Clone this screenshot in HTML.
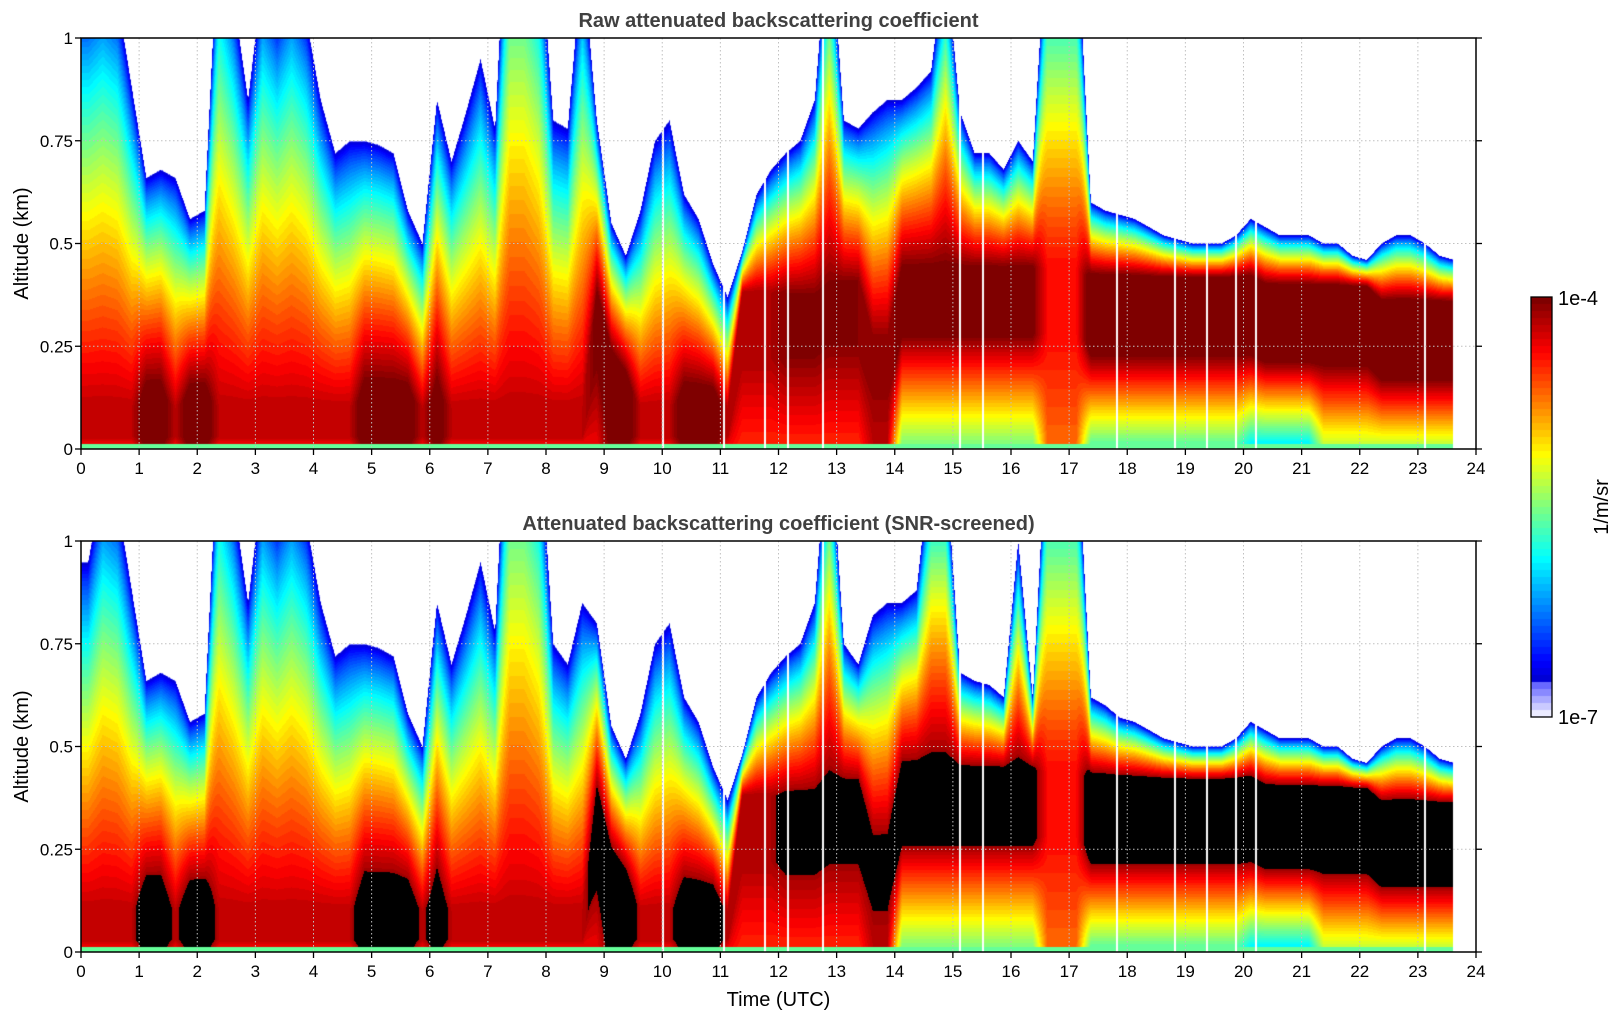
<!DOCTYPE html>
<html><head><meta charset="utf-8"><style>
html,body{margin:0;padding:0;background:#fff;width:1621px;height:1020px;overflow:hidden;position:relative}
canvas{position:absolute}
svg{position:absolute;left:0;top:0}
text{font-family:"Liberation Sans","DejaVu Sans",sans-serif}
</style></head><body>
<canvas id="c1" width="1395" height="411" style="left:81px;top:38px"></canvas>
<canvas id="c2" width="1395" height="411" style="left:81px;top:541px"></canvas>
<canvas id="cb" width="21" height="420" style="left:1531px;top:297px"></canvas>
<svg id="ov" width="1621" height="1020"></svg>
<script>
// ---- data: per 0.25 h column, hours 0 .. 23.5 ----
const colHours = Array.from({length:95},(_, i)=>i*0.25);
const dataEnd = 23.6;
const topRaw = [1.1,1.15,1.1,0.88,0.66,0.68,0.66,0.56,0.58,1.3,1.1,0.85,1.15,1.05,1.15,1.05,0.85,0.72,0.75,0.75,0.74,0.72,0.58,0.5,0.85,0.7,0.82,0.95,0.78,1.5,1.5,1.3,0.8,0.78,1.2,0.8,0.55,0.47,0.58,0.75,0.8,0.62,0.56,0.45,0.37,0.48,0.62,0.68,0.72,0.75,0.85,1.3,0.8,0.78,0.82,0.85,0.85,0.88,0.92,1.2,0.82,0.72,0.72,0.68,0.75,0.7,1.3,1.3,1.3,0.6,0.58,0.57,0.56,0.54,0.52,0.51,0.5,0.5,0.5,0.52,0.56,0.54,0.52,0.52,0.52,0.5,0.5,0.47,0.46,0.5,0.52,0.52,0.5,0.47,0.46];
const topScreened = [0.95,1.15,1.1,0.88,0.66,0.68,0.66,0.56,0.58,1.3,1.1,0.85,1.15,1.05,1.15,1.05,0.85,0.72,0.75,0.75,0.74,0.72,0.58,0.5,0.85,0.7,0.82,0.95,0.78,1.5,1.5,1.3,0.75,0.7,0.85,0.8,0.55,0.47,0.58,0.75,0.8,0.62,0.56,0.45,0.37,0.48,0.62,0.68,0.72,0.75,0.85,1.3,0.75,0.7,0.82,0.85,0.85,0.88,1.2,1.2,0.68,0.66,0.65,0.62,1.0,0.62,1.3,1.3,1.3,0.62,0.6,0.57,0.56,0.54,0.52,0.51,0.5,0.5,0.5,0.52,0.56,0.54,0.52,0.52,0.52,0.5,0.5,0.47,0.46,0.5,0.52,0.52,0.5,0.47,0.46];
const peakAlt = [0.06,0.06,0.06,0.06,0.06,0.06,0.06,0.06,0.06,0.06,0.06,0.06,0.06,0.06,0.06,0.06,0.06,0.06,0.06,0.06,0.06,0.06,0.06,0.06,0.06,0.06,0.06,0.06,0.06,0.06,0.06,0.06,0.06,0.06,0.06,0.3,0.15,0.1,0.06,0.06,0.06,0.06,0.06,0.06,0.06,0.3,0.3,0.3,0.3,0.3,0.3,0.33,0.33,0.33,0.2,0.2,0.36,0.36,0.36,0.36,0.36,0.36,0.36,0.36,0.36,0.36,0.36,0.36,0.36,0.33,0.33,0.33,0.33,0.33,0.33,0.33,0.33,0.33,0.33,0.33,0.33,0.31,0.31,0.31,0.31,0.31,0.31,0.31,0.31,0.27,0.27,0.27,0.27,0.27,0.27];
const layerThick = [0.04,0.04,0.04,0.04,0.07,0.07,0.04,0.07,0.07,0.04,0.04,0.04,0.04,0.04,0.04,0.04,0.04,0.04,0.04,0.07,0.07,0.07,0.07,0.04,0.07,0.04,0.04,0.04,0.04,0.04,0.04,0.04,0.04,0.04,0.04,0.08,0.07,0.07,0.04,0.04,0.04,0.07,0.07,0.07,0.04,0.08,0.08,0.08,0.08,0.08,0.08,0.08,0.08,0.08,0.08,0.08,0.08,0.08,0.08,0.08,0.08,0.08,0.08,0.08,0.08,0.08,0.08,0.08,0.08,0.08,0.08,0.08,0.08,0.08,0.08,0.08,0.08,0.08,0.08,0.08,0.08,0.08,0.08,0.08,0.08,0.08,0.08,0.08,0.08,0.08,0.08,0.08,0.08,0.08,0.08];
const peakVal = [-4.2,-4.2,-4.2,-4.2,-3.9,-3.9,-4.2,-3.9,-3.9,-4.2,-4.2,-4.2,-4.2,-4.2,-4.2,-4.2,-4.2,-4.2,-4.2,-3.9,-3.9,-3.9,-3.9,-4.2,-3.9,-4.2,-4.2,-4.2,-4.2,-4.2,-4.2,-4.2,-4.2,-4.2,-4.2,-4.0,-3.9,-3.9,-4.2,-4.2,-4.2,-3.9,-3.9,-3.9,-4.2,-4.15,-4.15,-4.15,-4.05,-4.05,-4.05,-4.05,-4.05,-4.05,-4.1,-4.1,-4.0,-4.0,-4.0,-4.0,-4.0,-4.0,-4.0,-4.0,-4.0,-4.0,-4.4,-4.4,-4.4,-3.85,-3.85,-3.85,-3.85,-3.85,-3.85,-3.85,-3.85,-3.85,-3.85,-3.85,-3.85,-3.85,-3.85,-3.85,-3.85,-3.85,-3.85,-3.85,-3.85,-3.85,-3.85,-3.85,-3.85,-3.85,-3.85];
const groundVal = [-4.35,-4.35,-4.35,-4.35,-3.95,-3.95,-4.35,-3.95,-3.95,-4.35,-4.35,-4.35,-4.35,-4.35,-4.35,-4.35,-4.35,-4.35,-4.35,-3.95,-3.95,-3.95,-3.95,-4.35,-3.95,-4.35,-4.35,-4.35,-4.35,-4.35,-4.35,-4.35,-4.35,-4.35,-4.35,-4.35,-3.95,-3.95,-4.35,-4.35,-4.35,-3.95,-3.95,-3.95,-4.35,-4.5,-4.5,-4.5,-4.5,-4.5,-4.5,-4.5,-4.5,-4.5,-4.2,-4.2,-5.5,-5.5,-5.5,-5.5,-5.5,-5.5,-5.5,-5.5,-5.5,-5.5,-4.7,-4.7,-4.7,-5.6,-5.6,-5.6,-5.6,-5.6,-5.6,-5.6,-5.6,-5.6,-5.6,-5.6,-5.9,-5.9,-5.9,-5.9,-5.9,-5.3,-5.3,-5.3,-5.3,-5.3,-5.3,-5.3,-5.3,-5.3,-5.3];
const gapHours = [10.0,11.05,11.75,12.15,12.75,15.1,15.5,17.8,18.8,19.35,19.85,20.2,23.1];
const xTicks = [0,1,2,3,4,5,6,7,8,9,10,11,12,13,14,15,16,17,18,19,20,21,22,23,24];
const yTicks = [0,0.25,0.5,0.75,1];
const yTickLabels = ["0","0.25","0.5","0.75","1"];
const screenThreshold = -4.12;
const stripVal = -5.6;
const vMin = -7, vMax = -4;

const PW=1395, PH=411, PL=81;
const panels=[{top:38,id:'c1',tops:topRaw,screen:false},{top:541,id:'c2',tops:topScreened,screen:true}];
const xScale = h => h/24*PW;
const yScale = z => PH - z*PH;

function jet(t){
  const lv=60; t=Math.floor(Math.max(0,Math.min(0.9999,t))*lv)/(lv-1);
  if(t<0.07){const k=t/0.07;return [Math.round(235-135*k),Math.round(235-135*k),255];}
  const c=x=>Math.max(0,Math.min(1,x));
  return [c(1.5-Math.abs(4*t-3))*255|0,c(1.5-Math.abs(4*t-2))*255|0,c(1.5-Math.abs(4*t-1))*255|0];
}
function interp(arr,h){
  const f=h/0.25-0.5; let i=Math.floor(f); const w=f-i;
  const a=arr[Math.max(0,Math.min(arr.length-1,i))], b=arr[Math.max(0,Math.min(arr.length-1,i+1))];
  return a+(b-a)*w;
}
function value(z,top,pa,th,pv,gv){
  if(z>top) return null;
  if(z<0.013) return stripVal;
  const hi=Math.min(pa+th,top-0.01), lo=Math.max(pa-th,0.03);
  if(z>=hi){const f=(top-z)/(top-hi);return -6.8+(pv+6.8)*Math.pow(f,0.7);}
  if(z>=lo) return pv;
  return gv+(pv-gv)*(z-0.013)/(lo-0.013);
}
panels.forEach(p=>{
  const ctx=document.getElementById(p.id).getContext('2d');
  const img=ctx.createImageData(PW,PH);
  for(let px=0;px<PW;px++){
    const h=(px+0.5)/PW*24;
    if(h>dataEnd) continue;
    const top=interp(p.tops,h),pa=interp(peakAlt,h),th=interp(layerThick,h),pv=interp(peakVal,h),gv=interp(groundVal,h);
    for(let py=0;py<PH;py++){
      const z=(PH-py-0.5)/PH;
      const v=value(z,top,pa,th,pv,gv);
      if(v===null) continue;
      let col;
      if(p.screen && v>=screenThreshold) col=[0,0,0];
      else col=jet((v-vMin)/(vMax-vMin));
      const k=(py*PW+px)*4;
      img.data[k]=col[0];img.data[k+1]=col[1];img.data[k+2]=col[2];img.data[k+3]=255;
    }
  }
  ctx.putImageData(img,0,0);
  ctx.fillStyle='#fff';
  gapHours.forEach(g=>{ctx.fillRect(Math.round(xScale(g)),0,2,PH);});
});
// colorbar
(function(){
  const ctx=document.getElementById('cb').getContext('2d');
  for(let y=0;y<420;y++){const t=1-(y+0.5)/420;const c=jet(t);ctx.fillStyle=`rgb(${c[0]},${c[1]},${c[2]})`;ctx.fillRect(0,y,21,1);}
})();
// overlay
const svg=document.getElementById('ov'); const NS='http://www.w3.org/2000/svg';
function mk(tag,attrs,txt){const e=document.createElementNS(NS,tag);for(const k in attrs)e.setAttribute(k,attrs[k]);if(txt!==undefined)e.textContent=txt;svg.appendChild(e);return e;}
const titles=["Raw attenuated backscattering coefficient","Attenuated backscattering coefficient (SNR-screened)"];
panels.forEach((p,pi)=>{
  const T=p.top;
  xTicks.forEach(h=>{
    const x=PL+xScale(h);
    if(h>0&&h<24){const g=mk('line',{x1:x,x2:x,y1:T,y2:T+PH,stroke:'#c0c0c0','stroke-width':1,'stroke-dasharray':'1.5,2.5'});
      }
    const t=mk('line',{x1:x,x2:x,y1:T+PH,y2:T+PH+6,stroke:'#000','stroke-width':1.3});
    
    const l=mk('text',{x:x,y:T+PH+25,'font-size':17,'text-anchor':'middle',fill:'#000'},String(h));
    
  });
  yTicks.forEach((z,i)=>{
    const y=T+yScale(z);
    if(z>0&&z<1){const g=mk('line',{x1:PL,x2:PL+PW,y1:y,y2:y,stroke:'#c0c0c0','stroke-width':1,'stroke-dasharray':'1.5,2.5'});
      }
    const t=mk('line',{x1:PL-6,x2:PL,y1:y,y2:y,stroke:'#000','stroke-width':1.3});
    
    const t2=mk('line',{x1:PL+PW,x2:PL+PW+6,y1:y,y2:y,stroke:'#000','stroke-width':1.3});
    
    const l=mk('text',{x:PL-8,y:y+6,'font-size':17,'text-anchor':'end',fill:'#000'},yTickLabels[i]);
    
  });
  const fr=mk('rect',{x:PL,y:T,width:PW,height:PH,fill:'none',stroke:'#000','stroke-width':1.5});
  
  const tt=mk('text',{x:PL+PW/2,y:T-11,'font-size':20,'font-weight':'bold','text-anchor':'middle',fill:'#404040'},titles[pi]);
  
  const yl=mk('text',{x:0,y:0,'font-size':20,'text-anchor':'middle',fill:'#000',transform:`translate(28,${T+PH/2}) rotate(-90)`},'Altitude (km)');
  
});
const xl=mk('text',{x:PL+PW/2,y:1006,'font-size':20,'text-anchor':'middle',fill:'#000'},'Time (UTC)');

const cbf=mk('rect',{x:1531,y:297,width:21,height:420,fill:'none',stroke:'#000','stroke-width':1.3});

const c1=mk('text',{x:1558,y:305,'font-size':20,fill:'#000'},'1e-4');

const c2=mk('text',{x:1558,y:724,'font-size':20,fill:'#000'},'1e-7');

const cu=mk('text',{x:0,y:0,'font-size':20,'text-anchor':'middle',fill:'#000',transform:'translate(1608,507) rotate(-90)'},'1/m/sr');

</script>
</body></html>
